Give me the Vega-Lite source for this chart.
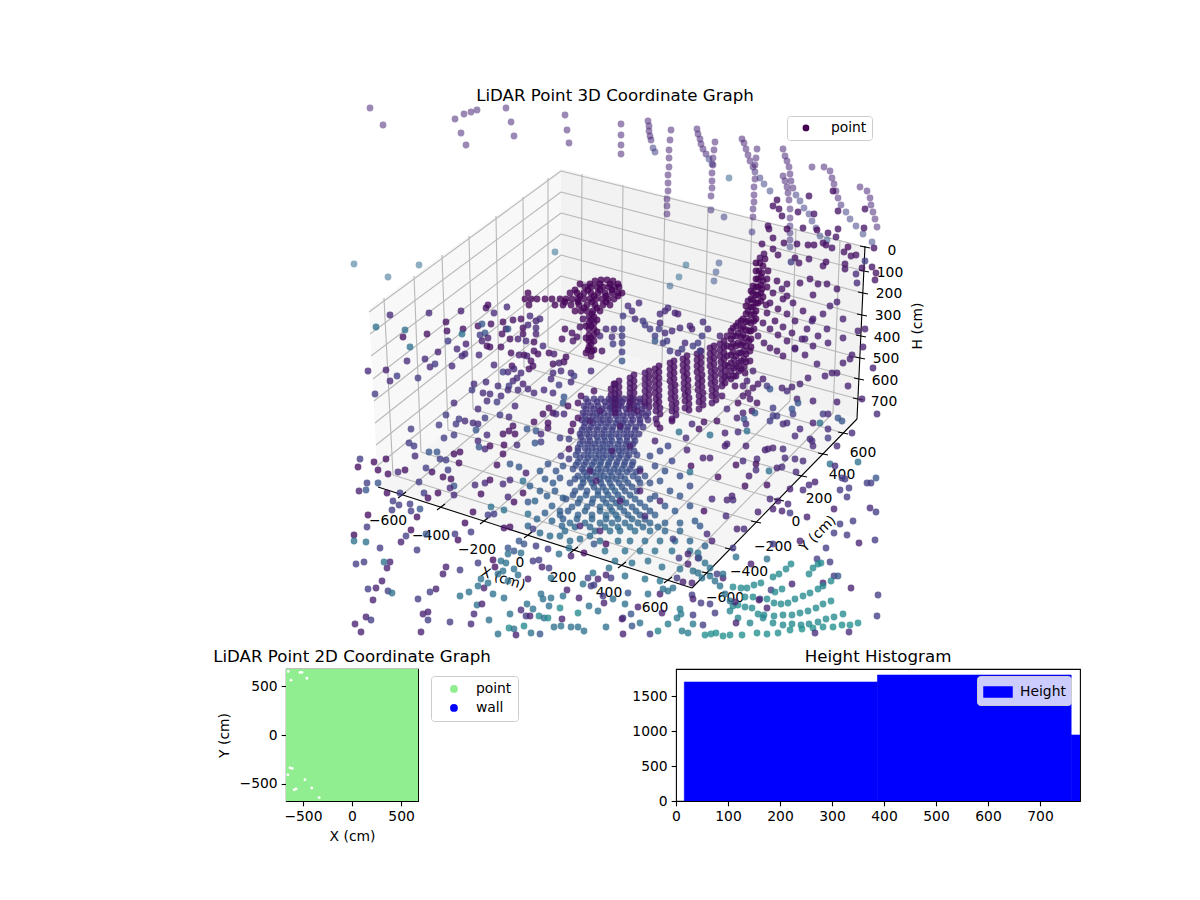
{"$schema":"https://vega.github.io/schema/vega-lite/v6.json","background":"white","padding":{"left":212,"top":87,"right":10,"bottom":50},"config":{"font":"DejaVu Sans","view":{"stroke":null},"title":{"fontSize":16.67,"fontWeight":"normal","color":"black","offset":3},"axis":{"grid":false,"domain":false,"labelFontSize":13.89,"titleFontSize":13.89,"titleFontWeight":"normal","labelColor":"black","titleColor":"black","tickColor":"black","tickSize":4.86,"tickWidth":1.1,"labelPadding":4,"titlePadding":6,"labelFlush":false,"labelOverlap":false},"legend":{"labelFontSize":13.89,"labelColor":"black","strokeColor":"#cccccc","cornerRadius":3}},
"datasets":{
"panes":[{"p":"left","u":369,"v":308,"w":308},{"p":"left","u":378,"v":301,"w":486},{"p":"left","u":561,"v":168,"w":336},{"p":"right","u":561,"v":168,"w":336},{"p":"right","u":857,"v":243,"w":418},{"p":"right","u":865,"v":245,"w":245},{"p":"floor","u":378,"v":486,"w":486},{"p":"floor","u":561,"v":336,"w":545},{"p":"floor","u":692,"v":372,"w":587},{"p":"floor","u":857,"v":418,"w":418}],
"grid":[{"a":384,"b":297,"c":393,"d":474},{"a":414,"b":275,"c":421,"d":451},{"a":442,"b":254,"c":448,"d":429},{"a":469,"b":235,"c":473,"d":408},{"a":496,"b":215,"c":499,"d":387},{"a":523,"b":196,"c":524,"d":366},{"a":548,"b":177,"c":548,"d":346},{"a":582,"b":173,"c":581,"d":342},{"a":623,"b":184,"c":621,"d":353},{"a":665,"b":194,"c":662,"d":364},{"a":708,"b":205,"c":704,"d":376},{"a":752,"b":216,"c":747,"d":388},{"a":796,"b":227,"c":790,"d":400},{"a":840,"b":239,"c":833,"d":412},{"a":369,"b":311,"c":561,"d":170},{"a":370,"b":333,"c":561,"d":191},{"a":371,"b":355,"c":561,"d":212},{"a":373,"b":378,"c":561,"d":233},{"a":374,"b":400,"c":561,"d":254},{"a":375,"b":422,"c":561,"d":275},{"a":376,"b":444,"c":561,"d":297},{"a":377,"b":465,"c":561,"d":318},{"a":561,"b":170,"c":865,"d":246},{"a":561,"b":191,"c":864,"d":270},{"a":561,"b":212,"c":863,"d":292},{"a":561,"b":233,"c":862,"d":314},{"a":561,"b":254,"c":861,"d":335},{"a":561,"b":275,"c":860,"d":357},{"a":561,"b":297,"c":859,"d":378},{"a":561,"b":318,"c":858,"d":398},{"a":402,"b":494,"c":581,"d":342},{"a":441,"b":506,"c":621,"d":353},{"a":484,"b":520,"c":662,"d":364},{"a":528,"b":534,"c":704,"d":376},{"a":574,"b":549,"c":747,"d":388},{"a":622,"b":564,"c":790,"d":400},{"a":668,"b":579,"c":833,"d":412},{"a":393,"b":474,"c":707,"d":572},{"a":421,"b":451,"c":730,"d":548},{"a":448,"b":429,"c":756,"d":521},{"a":473,"b":408,"c":779,"d":499},{"a":499,"b":387,"c":802,"d":475},{"a":524,"b":366,"c":823,"d":453},{"a":548,"b":346,"c":843,"d":432}],
"axes3d":[{"a":378,"b":486,"c":692,"d":587},{"a":692,"b":587,"c":857,"d":418},{"a":857,"b":418,"c":865,"d":245},{"a":398,"b":497,"c":406,"d":491},{"a":437,"b":509,"c":445,"d":503},{"a":480,"b":523,"c":488,"d":517},{"a":524,"b":537,"c":532,"d":531},{"a":570,"b":552,"c":578,"d":546},{"a":618,"b":567,"c":626,"d":561},{"a":664,"b":582,"c":672,"d":576},{"a":702,"b":571,"c":712,"d":573},{"a":725,"b":547,"c":735,"d":549},{"a":751,"b":520,"c":761,"d":522},{"a":774,"b":498,"c":784,"d":500},{"a":797,"b":474,"c":807,"d":476},{"a":818,"b":452,"c":828,"d":454},{"a":838,"b":431,"c":848,"d":433},{"a":860,"b":245,"c":870,"d":247},{"a":859,"b":269,"c":869,"d":271},{"a":858,"b":291,"c":868,"d":293},{"a":857,"b":313,"c":867,"d":315},{"a":856,"b":334,"c":866,"d":336},{"a":855,"b":356,"c":865,"d":358},{"a":854,"b":377,"c":864,"d":379},{"a":853,"b":397,"c":863,"d":399}],
"ticks3d":[{"u":388,"v":520,"t":"−600"},{"u":431,"v":535,"t":"−400"},{"u":477,"v":549,"t":"−200"},{"u":520,"v":562,"t":"0"},{"u":563,"v":577,"t":"200"},{"u":609,"v":592,"t":"400"},{"u":655,"v":607,"t":"600"},{"u":725,"v":597,"t":"−600"},{"u":749,"v":571,"t":"−400"},{"u":773,"v":546,"t":"−200"},{"u":796,"v":521,"t":"0"},{"u":819,"v":498,"t":"200"},{"u":842,"v":474,"t":"400"},{"u":863,"v":452,"t":"600"},{"u":892,"v":250,"t":"0"},{"u":890,"v":272,"t":"100"},{"u":889,"v":293,"t":"200"},{"u":888,"v":315,"t":"300"},{"u":887,"v":337,"t":"400"},{"u":886,"v":358,"t":"500"},{"u":885,"v":380,"t":"600"},{"u":884,"v":401,"t":"700"}],
"far":[{"u":370,"v":107,"h":14},{"u":383,"v":124,"h":14},{"u":455,"v":118,"h":14},{"u":461,"v":132,"h":14},{"u":466,"v":144,"h":14},{"u":464,"v":113,"h":14},{"u":471,"v":111,"h":14},{"u":477,"v":109,"h":14},{"u":506,"v":107,"h":14},{"u":511,"v":121,"h":14},{"u":514,"v":135,"h":14},{"u":565,"v":114,"h":14},{"u":567,"v":129,"h":14},{"u":569,"v":142,"h":14},{"u":621,"v":123,"h":14},{"u":621,"v":134,"h":14},{"u":621,"v":144,"h":14},{"u":621,"v":153,"h":14},{"u":354,"v":263,"h":40},{"u":419,"v":264,"h":40},{"u":388,"v":276,"h":40},{"u":555,"v":251,"h":40},{"u":648,"v":120,"h":14},{"u":649,"v":125,"h":14},{"u":649,"v":130,"h":14},{"u":650,"v":135,"h":14},{"u":651,"v":139,"h":14},{"u":653,"v":147,"h":24},{"u":655,"v":151,"h":24},{"u":671,"v":129,"h":14},{"u":670,"v":139,"h":14},{"u":669,"v":149,"h":14},{"u":669,"v":157,"h":14},{"u":669,"v":166,"h":14},{"u":668,"v":174,"h":14},{"u":668,"v":182,"h":14},{"u":668,"v":190,"h":14},{"u":667,"v":198,"h":14},{"u":667,"v":205,"h":14},{"u":667,"v":213,"h":14},{"u":697,"v":128,"h":14},{"u":698,"v":133,"h":14},{"u":700,"v":138,"h":14},{"u":701,"v":143,"h":14},{"u":703,"v":148,"h":14},{"u":706,"v":153,"h":14},{"u":709,"v":158,"h":24},{"u":712,"v":163,"h":24},{"u":715,"v":141,"h":14},{"u":714,"v":149,"h":14},{"u":713,"v":157,"h":14},{"u":713,"v":164,"h":14},{"u":712,"v":172,"h":14},{"u":712,"v":180,"h":14},{"u":712,"v":187,"h":14},{"u":711,"v":195,"h":14},{"u":711,"v":209,"h":18},{"u":724,"v":216,"h":24},{"u":729,"v":177,"h":36},{"u":742,"v":138,"h":14},{"u":744,"v":142,"h":14},{"u":746,"v":148,"h":14},{"u":748,"v":154,"h":14},{"u":750,"v":160,"h":14},{"u":753,"v":166,"h":14},{"u":755,"v":171,"h":18},{"u":760,"v":177,"h":24},{"u":764,"v":183,"h":26},{"u":770,"v":190,"h":26},{"u":757,"v":148,"h":14},{"u":756,"v":157,"h":14},{"u":755,"v":164,"h":14},{"u":755,"v":178,"h":14},{"u":754,"v":186,"h":14},{"u":754,"v":194,"h":14},{"u":754,"v":201,"h":14},{"u":753,"v":208,"h":14},{"u":753,"v":216,"h":14},{"u":752,"v":231,"h":18},{"u":783,"v":148,"h":14},{"u":785,"v":155,"h":14},{"u":787,"v":160,"h":14},{"u":789,"v":166,"h":14},{"u":790,"v":173,"h":14},{"u":791,"v":180,"h":14},{"u":793,"v":187,"h":14},{"u":796,"v":194,"h":24},{"u":800,"v":200,"h":24},{"u":804,"v":207,"h":24},{"u":809,"v":213,"h":24},{"u":812,"v":220,"h":24},{"u":816,"v":227,"h":24},{"u":820,"v":235,"h":26},{"u":827,"v":239,"h":36},{"u":783,"v":175,"h":14},{"u":785,"v":180,"h":14},{"u":787,"v":186,"h":14},{"u":788,"v":192,"h":14},{"u":789,"v":199,"h":14},{"u":790,"v":208,"h":14},{"u":790,"v":217,"h":14},{"u":790,"v":225,"h":18},{"u":790,"v":232,"h":18},{"u":790,"v":239,"h":18},{"u":790,"v":246,"h":24},{"u":812,"v":166,"h":14},{"u":824,"v":166,"h":14},{"u":830,"v":170,"h":14},{"u":832,"v":177,"h":14},{"u":834,"v":183,"h":14},{"u":836,"v":190,"h":14},{"u":838,"v":197,"h":14},{"u":841,"v":204,"h":18},{"u":846,"v":211,"h":24},{"u":850,"v":218,"h":24},{"u":856,"v":225,"h":24},{"u":863,"v":233,"h":26},{"u":872,"v":241,"h":26},{"u":860,"v":186,"h":14},{"u":867,"v":190,"h":14},{"u":870,"v":197,"h":14},{"u":871,"v":204,"h":14},{"u":873,"v":211,"h":14},{"u":875,"v":218,"h":14},{"u":877,"v":226,"h":14},{"u":686,"v":264,"h":40},{"u":679,"v":276,"h":40},{"u":670,"v":285,"h":36},{"u":719,"v":262,"h":30},{"u":716,"v":271,"h":30},{"u":714,"v":280,"h":30}],
"dense":[{"u":611,"v":388,"h":7},{"u":611,"v":394,"h":7},{"u":611,"v":400,"h":7},{"u":611,"v":406,"h":7},{"u":619,"v":380,"h":7},{"u":619,"v":386,"h":7},{"u":619,"v":392,"h":7},{"u":619,"v":398,"h":7},{"u":619,"v":404,"h":7},{"u":634,"v":374,"h":6},{"u":634,"v":380,"h":6},{"u":634,"v":386,"h":6},{"u":634,"v":392,"h":6},{"u":634,"v":398,"h":7},{"u":634,"v":404,"h":7},{"u":649,"v":370,"h":6},{"u":649,"v":376,"h":6},{"u":649,"v":382,"h":6},{"u":649,"v":388,"h":6},{"u":649,"v":394,"h":6},{"u":649,"v":400,"h":7},{"u":649,"v":406,"h":7},{"u":659,"v":365,"h":5},{"u":659,"v":371,"h":5},{"u":659,"v":377,"h":5},{"u":659,"v":383,"h":5},{"u":659,"v":389,"h":6},{"u":659,"v":395,"h":6},{"u":659,"v":401,"h":6},{"u":660,"v":407,"h":7},{"u":660,"v":413,"h":7},{"u":674,"v":360,"h":5},{"u":674,"v":366,"h":5},{"u":674,"v":372,"h":5},{"u":674,"v":378,"h":5},{"u":675,"v":384,"h":5},{"u":675,"v":390,"h":6},{"u":675,"v":396,"h":6},{"u":676,"v":402,"h":6},{"u":676,"v":408,"h":6},{"u":676,"v":414,"h":7},{"u":687,"v":355,"h":5},{"u":687,"v":361,"h":5},{"u":687,"v":367,"h":5},{"u":687,"v":373,"h":5},{"u":688,"v":379,"h":5},{"u":688,"v":385,"h":5},{"u":688,"v":391,"h":6},{"u":689,"v":397,"h":6},{"u":689,"v":403,"h":6},{"u":689,"v":409,"h":6},{"u":701,"v":350,"h":5},{"u":701,"v":356,"h":5},{"u":701,"v":362,"h":5},{"u":701,"v":368,"h":5},{"u":702,"v":374,"h":5},{"u":702,"v":380,"h":5},{"u":702,"v":386,"h":6},{"u":703,"v":392,"h":6},{"u":703,"v":398,"h":6},{"u":703,"v":404,"h":6},{"u":714,"v":345,"h":4},{"u":714,"v":351,"h":4},{"u":714,"v":357,"h":4},{"u":714,"v":363,"h":5},{"u":715,"v":369,"h":5},{"u":715,"v":375,"h":5},{"u":715,"v":381,"h":5},{"u":716,"v":387,"h":6},{"u":716,"v":393,"h":6},{"u":716,"v":399,"h":6},{"u":724,"v":340,"h":4},{"u":724,"v":346,"h":4},{"u":724,"v":352,"h":4},{"u":724,"v":358,"h":4},{"u":725,"v":364,"h":4},{"u":725,"v":370,"h":5},{"u":725,"v":376,"h":5},{"u":725,"v":382,"h":5},{"u":731,"v":330,"h":3},{"u":731,"v":338,"h":3},{"u":731,"v":346,"h":3},{"u":731,"v":354,"h":4},{"u":731,"v":362,"h":4},{"u":731,"v":370,"h":4},{"u":731,"v":378,"h":4},{"u":736,"v":325,"h":3},{"u":736,"v":335,"h":3},{"u":736,"v":345,"h":3},{"u":736,"v":355,"h":3},{"u":736,"v":365,"h":4},{"u":736,"v":375,"h":4},{"u":741,"v":320,"h":3},{"u":741,"v":328,"h":3},{"u":741,"v":336,"h":3},{"u":741,"v":344,"h":3},{"u":741,"v":352,"h":3},{"u":741,"v":360,"h":3},{"u":741,"v":368,"h":3},{"u":746,"v":305,"h":2},{"u":746,"v":313,"h":2},{"u":746,"v":321,"h":2},{"u":746,"v":329,"h":2},{"u":746,"v":337,"h":3},{"u":746,"v":345,"h":3},{"u":746,"v":353,"h":3},{"u":746,"v":361,"h":3},{"u":751,"v":290,"h":2},{"u":751,"v":298,"h":2},{"u":751,"v":306,"h":2},{"u":751,"v":314,"h":2},{"u":751,"v":322,"h":2},{"u":751,"v":330,"h":2},{"u":751,"v":338,"h":2},{"u":751,"v":346,"h":2},{"u":756,"v":262,"h":1},{"u":756,"v":270,"h":1},{"u":756,"v":278,"h":1},{"u":756,"v":286,"h":1},{"u":756,"v":294,"h":1},{"u":756,"v":302,"h":1},{"u":756,"v":310,"h":1},{"u":756,"v":318,"h":2},{"u":761,"v":276,"h":1},{"u":761,"v":284,"h":1},{"u":761,"v":292,"h":1},{"u":761,"v":300,"h":1},{"u":580,"v":283,"h":1},{"u":590,"v":283,"h":1},{"u":600,"v":283,"h":1},{"u":610,"v":283,"h":1},{"u":618,"v":283,"h":1},{"u":575,"v":289,"h":1},{"u":588,"v":289,"h":1},{"u":600,"v":289,"h":1},{"u":612,"v":289,"h":1},{"u":580,"v":295,"h":1},{"u":594,"v":295,"h":1},{"u":606,"v":295,"h":1},{"u":618,"v":295,"h":1},{"u":565,"v":301,"h":1},{"u":578,"v":301,"h":1},{"u":592,"v":301,"h":1},{"u":606,"v":301,"h":1},{"u":584,"v":307,"h":1},{"u":597,"v":307,"h":1},{"u":592,"v":313,"h":2},{"u":591,"v":319,"h":2},{"u":597,"v":319,"h":2},{"u":586,"v":325,"h":2},{"u":591,"v":325,"h":2},{"u":597,"v":331,"h":2},{"u":586,"v":337,"h":2},{"u":591,"v":337,"h":2},{"u":591,"v":343,"h":2},{"u":588,"v":349,"h":2},{"u":594,"v":349,"h":2},{"u":588,"v":401,"h":20},{"u":597,"v":401,"h":20},{"u":605,"v":401,"h":20},{"u":613,"v":401,"h":20},{"u":622,"v":401,"h":18},{"u":630,"v":401,"h":18},{"u":640,"v":401,"h":18},{"u":586,"v":408,"h":20},{"u":594,"v":408,"h":20},{"u":602,"v":408,"h":20},{"u":610,"v":408,"h":20},{"u":618,"v":408,"h":20},{"u":626,"v":408,"h":20},{"u":634,"v":408,"h":18},{"u":642,"v":408,"h":18},{"u":585,"v":415,"h":22},{"u":593,"v":415,"h":22},{"u":600,"v":415,"h":22},{"u":608,"v":415,"h":22},{"u":616,"v":415,"h":22},{"u":623,"v":415,"h":20},{"u":631,"v":415,"h":20},{"u":639,"v":415,"h":20},{"u":646,"v":415,"h":20},{"u":585,"v":422,"h":22},{"u":593,"v":422,"h":22},{"u":601,"v":422,"h":22},{"u":608,"v":422,"h":24},{"u":616,"v":422,"h":24},{"u":623,"v":422,"h":22},{"u":631,"v":422,"h":22},{"u":640,"v":422,"h":20},{"u":582,"v":429,"h":24},{"u":589,"v":429,"h":24},{"u":597,"v":429,"h":24},{"u":604,"v":429,"h":24},{"u":612,"v":429,"h":24},{"u":620,"v":429,"h":24},{"u":627,"v":429,"h":24},{"u":635,"v":429,"h":22},{"u":581,"v":436,"h":24},{"u":589,"v":436,"h":24},{"u":597,"v":436,"h":26},{"u":604,"v":436,"h":26},{"u":611,"v":436,"h":26},{"u":619,"v":436,"h":26},{"u":627,"v":436,"h":24},{"u":634,"v":436,"h":24},{"u":580,"v":443,"h":26},{"u":588,"v":443,"h":26},{"u":595,"v":443,"h":26},{"u":603,"v":443,"h":26},{"u":610,"v":443,"h":26},{"u":618,"v":443,"h":26},{"u":626,"v":443,"h":26},{"u":633,"v":443,"h":24},{"u":578,"v":450,"h":26},{"u":588,"v":450,"h":26},{"u":596,"v":450,"h":28},{"u":603,"v":450,"h":28},{"u":611,"v":450,"h":28},{"u":619,"v":450,"h":28},{"u":626,"v":450,"h":26},{"u":634,"v":450,"h":26},{"u":580,"v":457,"h":28},{"u":588,"v":457,"h":28},{"u":596,"v":457,"h":28},{"u":603,"v":457,"h":28},{"u":611,"v":457,"h":28},{"u":619,"v":457,"h":28},{"u":627,"v":457,"h":28},{"u":576,"v":464,"h":28},{"u":584,"v":464,"h":28},{"u":592,"v":464,"h":30},{"u":600,"v":464,"h":30},{"u":608,"v":464,"h":30},{"u":616,"v":464,"h":30},{"u":624,"v":464,"h":30},{"u":632,"v":464,"h":28},{"u":584,"v":471,"h":30},{"u":593,"v":471,"h":30},{"u":601,"v":471,"h":30},{"u":610,"v":471,"h":30},{"u":618,"v":471,"h":30},{"u":627,"v":471,"h":30},{"u":636,"v":471,"h":30},{"u":575,"v":478,"h":30},{"u":583,"v":478,"h":32},{"u":590,"v":478,"h":32},{"u":600,"v":478,"h":32},{"u":608,"v":478,"h":32},{"u":616,"v":478,"h":32},{"u":625,"v":478,"h":32},{"u":638,"v":478,"h":30},{"u":581,"v":486,"h":32},{"u":594,"v":486,"h":32},{"u":603,"v":486,"h":32},{"u":612,"v":486,"h":34},{"u":622,"v":486,"h":32},{"u":632,"v":486,"h":32},{"u":573,"v":494,"h":32},{"u":586,"v":494,"h":34},{"u":598,"v":494,"h":34},{"u":608,"v":494,"h":34},{"u":618,"v":494,"h":34},{"u":630,"v":494,"h":34},{"u":578,"v":502,"h":34},{"u":592,"v":502,"h":34},{"u":606,"v":502,"h":36},{"u":616,"v":502,"h":36},{"u":626,"v":502,"h":36},{"u":640,"v":502,"h":34},{"u":568,"v":510,"h":34},{"u":585,"v":510,"h":36},{"u":600,"v":510,"h":36},{"u":612,"v":510,"h":38},{"u":624,"v":510,"h":36},{"u":636,"v":510,"h":36},{"u":650,"v":510,"h":34},{"u":563,"v":518,"h":36},{"u":577,"v":518,"h":36},{"u":592,"v":518,"h":38},{"u":606,"v":518,"h":38},{"u":618,"v":518,"h":38},{"u":632,"v":518,"h":38},{"u":645,"v":518,"h":36},{"u":575,"v":526,"h":38},{"u":590,"v":526,"h":38},{"u":605,"v":526,"h":40},{"u":618,"v":526,"h":40},{"u":630,"v":526,"h":40},{"u":643,"v":526,"h":38},{"u":658,"v":526,"h":38},{"u":540,"v":470,"h":34},{"u":548,"v":463,"h":32},{"u":556,"v":470,"h":32},{"u":563,"v":465,"h":32},{"u":545,"v":478,"h":34},{"u":553,"v":482,"h":34},{"u":560,"v":477,"h":32},{"u":540,"v":490,"h":36},{"u":547,"v":495,"h":36},{"u":555,"v":490,"h":34},{"u":563,"v":497,"h":34},{"u":552,"v":505,"h":36},{"u":545,"v":512,"h":36},{"u":560,"v":510,"h":36},{"u":535,"v":500,"h":38},{"u":530,"v":485,"h":36},{"u":537,"v":518,"h":38},{"u":552,"v":520,"h":38},{"u":562,"v":525,"h":38},{"u":528,"v":525,"h":38},{"u":540,"v":532,"h":40},{"u":550,"v":535,"h":40},{"u":560,"v":535,"h":40},{"u":570,"v":540,"h":40},{"u":580,"v":538,"h":40},{"u":590,"v":535,"h":40},{"u":565,"v":530,"h":40},{"u":655,"v":465,"h":30},{"u":665,"v":470,"h":30},{"u":672,"v":460,"h":26},{"u":680,"v":475,"h":30},{"u":660,"v":480,"h":32},{"u":670,"v":490,"h":32},{"u":680,"v":495,"h":32},{"u":690,"v":485,"h":28},{"u":655,"v":495,"h":32},{"u":665,"v":505,"h":34},{"u":675,"v":510,"h":34},{"u":690,"v":505,"h":32},{"u":695,"v":520,"h":34},{"u":680,"v":522,"h":36},{"u":700,"v":525,"h":34},{"u":705,"v":545,"h":38},{"u":690,"v":540,"h":38},{"u":650,"v":455,"h":28},{"u":660,"v":450,"h":26},{"u":668,"v":445,"h":26}],
"pts":[{"u":586,"v":398,"h":20},{"u":594,"v":398,"h":20},{"u":601,"v":398,"h":20},{"u":609,"v":398,"h":18},{"u":616,"v":398,"h":18},{"u":624,"v":398,"h":18},{"u":632,"v":398,"h":16},{"u":640,"v":398,"h":16},{"u":584,"v":405,"h":20},{"u":591,"v":405,"h":20},{"u":598,"v":405,"h":20},{"u":606,"v":405,"h":20},{"u":613,"v":405,"h":20},{"u":621,"v":405,"h":18},{"u":629,"v":405,"h":18},{"u":637,"v":405,"h":18},{"u":645,"v":405,"h":16},{"u":583,"v":412,"h":20},{"u":590,"v":412,"h":20},{"u":597,"v":412,"h":22},{"u":604,"v":412,"h":22},{"u":612,"v":412,"h":22},{"u":619,"v":412,"h":20},{"u":627,"v":412,"h":20},{"u":634,"v":412,"h":20},{"u":642,"v":412,"h":18},{"u":648,"v":412,"h":18},{"u":582,"v":419,"h":20},{"u":588,"v":419,"h":22},{"u":596,"v":419,"h":22},{"u":603,"v":419,"h":22},{"u":610,"v":419,"h":22},{"u":618,"v":419,"h":22},{"u":625,"v":419,"h":22},{"u":633,"v":419,"h":20},{"u":640,"v":419,"h":20},{"u":648,"v":419,"h":18},{"u":584,"v":426,"h":22},{"u":591,"v":426,"h":22},{"u":598,"v":426,"h":24},{"u":606,"v":426,"h":24},{"u":613,"v":426,"h":24},{"u":621,"v":426,"h":24},{"u":628,"v":426,"h":22},{"u":636,"v":426,"h":22},{"u":643,"v":426,"h":20},{"u":580,"v":433,"h":22},{"u":587,"v":433,"h":24},{"u":594,"v":433,"h":24},{"u":602,"v":433,"h":24},{"u":609,"v":433,"h":26},{"u":616,"v":433,"h":24},{"u":624,"v":433,"h":24},{"u":631,"v":433,"h":22},{"u":639,"v":433,"h":22},{"u":583,"v":440,"h":24},{"u":590,"v":440,"h":24},{"u":598,"v":440,"h":26},{"u":605,"v":440,"h":26},{"u":612,"v":440,"h":26},{"u":620,"v":440,"h":26},{"u":627,"v":440,"h":24},{"u":635,"v":440,"h":24},{"u":578,"v":447,"h":24},{"u":585,"v":447,"h":26},{"u":592,"v":447,"h":26},{"u":600,"v":447,"h":26},{"u":607,"v":447,"h":28},{"u":615,"v":447,"h":28},{"u":622,"v":447,"h":26},{"u":630,"v":447,"h":26},{"u":576,"v":454,"h":26},{"u":584,"v":454,"h":26},{"u":591,"v":454,"h":28},{"u":599,"v":454,"h":28},{"u":606,"v":454,"h":28},{"u":613,"v":454,"h":28},{"u":621,"v":454,"h":28},{"u":629,"v":454,"h":26},{"u":637,"v":454,"h":26},{"u":578,"v":461,"h":28},{"u":586,"v":461,"h":28},{"u":594,"v":461,"h":28},{"u":601,"v":461,"h":30},{"u":609,"v":461,"h":30},{"u":617,"v":461,"h":28},{"u":625,"v":461,"h":28},{"u":633,"v":461,"h":28},{"u":573,"v":468,"h":28},{"u":582,"v":468,"h":28},{"u":590,"v":468,"h":30},{"u":598,"v":468,"h":30},{"u":606,"v":468,"h":30},{"u":614,"v":468,"h":30},{"u":622,"v":468,"h":30},{"u":630,"v":468,"h":28},{"u":640,"v":468,"h":28},{"u":578,"v":475,"h":30},{"u":587,"v":475,"h":30},{"u":596,"v":475,"h":30},{"u":604,"v":475,"h":32},{"u":612,"v":475,"h":32},{"u":621,"v":475,"h":30},{"u":633,"v":475,"h":30},{"u":645,"v":475,"h":30},{"u":570,"v":482,"h":30},{"u":583,"v":482,"h":32},{"u":592,"v":482,"h":32},{"u":601,"v":482,"h":32},{"u":610,"v":482,"h":32},{"u":619,"v":482,"h":32},{"u":628,"v":482,"h":32},{"u":640,"v":482,"h":30},{"u":650,"v":482,"h":30},{"u":575,"v":490,"h":32},{"u":587,"v":490,"h":32},{"u":598,"v":490,"h":34},{"u":606,"v":490,"h":34},{"u":615,"v":490,"h":34},{"u":625,"v":490,"h":32},{"u":637,"v":490,"h":32},{"u":566,"v":498,"h":32},{"u":580,"v":498,"h":34},{"u":593,"v":498,"h":34},{"u":603,"v":498,"h":34},{"u":612,"v":498,"h":34},{"u":622,"v":498,"h":34},{"u":635,"v":498,"h":34},{"u":650,"v":498,"h":32},{"u":572,"v":506,"h":34},{"u":587,"v":506,"h":36},{"u":600,"v":506,"h":36},{"u":610,"v":506,"h":36},{"u":620,"v":506,"h":36},{"u":632,"v":506,"h":34},{"u":645,"v":506,"h":34},{"u":560,"v":514,"h":34},{"u":578,"v":514,"h":36},{"u":592,"v":514,"h":36},{"u":606,"v":514,"h":38},{"u":616,"v":514,"h":38},{"u":628,"v":514,"h":36},{"u":640,"v":514,"h":36},{"u":655,"v":514,"h":36},{"u":570,"v":522,"h":38},{"u":585,"v":522,"h":38},{"u":600,"v":522,"h":38},{"u":612,"v":522,"h":38},{"u":625,"v":522,"h":38},{"u":638,"v":522,"h":38},{"u":650,"v":522,"h":38},{"u":665,"v":522,"h":36},{"u":595,"v":530,"h":40},{"u":610,"v":530,"h":40},{"u":620,"v":530,"h":40},{"u":635,"v":530,"h":40},{"u":650,"v":530,"h":40},{"u":665,"v":530,"h":38},{"u":680,"v":530,"h":38},{"u":600,"v":540,"h":40},{"u":618,"v":540,"h":40},{"u":630,"v":540,"h":40},{"u":645,"v":540,"h":40},{"u":660,"v":540,"h":40},{"u":675,"v":540,"h":40},{"u":605,"v":550,"h":42},{"u":625,"v":550,"h":42},{"u":640,"v":550,"h":42},{"u":655,"v":550,"h":42},{"u":672,"v":550,"h":42},{"u":690,"v":550,"h":42},{"u":615,"v":560,"h":42},{"u":632,"v":562,"h":42},{"u":648,"v":560,"h":42},{"u":662,"v":566,"h":42},{"u":680,"v":568,"h":42},{"u":625,"v":575,"h":42},{"u":645,"v":578,"h":44},{"u":660,"v":580,"h":44},{"u":600,"v":410,"h":12},{"u":590,"v":420,"h":12},{"u":620,"v":425,"h":10},{"u":637,"v":410,"h":10},{"u":655,"v":440,"h":12},{"u":640,"v":470,"h":12},{"u":612,"v":450,"h":12},{"u":590,"v":470,"h":12},{"u":640,"v":490,"h":12},{"u":620,"v":500,"h":12},{"u":660,"v":500,"h":12},{"u":645,"v":515,"h":16},{"u":600,"v":530,"h":12},{"u":580,"v":525,"h":12},{"u":596,"v":480,"h":12},{"u":630,"v":445,"h":12},{"u":615,"v":383,"h":7},{"u":615,"v":388,"h":7},{"u":615,"v":393,"h":7},{"u":615,"v":398,"h":7},{"u":615,"v":403,"h":8},{"u":615,"v":408,"h":8},{"u":615,"v":412,"h":8},{"u":630,"v":377,"h":7},{"u":630,"v":382,"h":7},{"u":630,"v":387,"h":7},{"u":630,"v":392,"h":7},{"u":630,"v":397,"h":7},{"u":630,"v":402,"h":8},{"u":630,"v":408,"h":8},{"u":645,"v":372,"h":7},{"u":645,"v":378,"h":7},{"u":645,"v":384,"h":7},{"u":645,"v":390,"h":7},{"u":645,"v":396,"h":7},{"u":645,"v":402,"h":8},{"u":655,"v":368,"h":5},{"u":655,"v":374,"h":5},{"u":655,"v":380,"h":5},{"u":655,"v":386,"h":6},{"u":655,"v":392,"h":6},{"u":656,"v":398,"h":6},{"u":656,"v":404,"h":6},{"u":656,"v":410,"h":7},{"u":656,"v":418,"h":7},{"u":670,"v":362,"h":5},{"u":670,"v":368,"h":5},{"u":670,"v":374,"h":5},{"u":670,"v":380,"h":5},{"u":671,"v":386,"h":6},{"u":671,"v":392,"h":6},{"u":671,"v":398,"h":6},{"u":672,"v":404,"h":6},{"u":672,"v":410,"h":7},{"u":672,"v":418,"h":7},{"u":683,"v":358,"h":5},{"u":683,"v":364,"h":5},{"u":683,"v":370,"h":5},{"u":684,"v":376,"h":5},{"u":684,"v":382,"h":6},{"u":684,"v":388,"h":6},{"u":685,"v":394,"h":6},{"u":685,"v":400,"h":6},{"u":685,"v":407,"h":7},{"u":697,"v":353,"h":5},{"u":697,"v":359,"h":5},{"u":697,"v":365,"h":5},{"u":697,"v":371,"h":5},{"u":698,"v":377,"h":5},{"u":698,"v":383,"h":6},{"u":698,"v":389,"h":6},{"u":699,"v":395,"h":6},{"u":699,"v":401,"h":6},{"u":699,"v":408,"h":7},{"u":710,"v":347,"h":5},{"u":710,"v":353,"h":5},{"u":710,"v":359,"h":5},{"u":710,"v":365,"h":5},{"u":711,"v":371,"h":5},{"u":711,"v":377,"h":6},{"u":711,"v":383,"h":6},{"u":712,"v":389,"h":6},{"u":712,"v":395,"h":6},{"u":712,"v":402,"h":7},{"u":720,"v":343,"h":5},{"u":720,"v":349,"h":5},{"u":720,"v":355,"h":5},{"u":721,"v":361,"h":5},{"u":721,"v":367,"h":5},{"u":721,"v":373,"h":6},{"u":722,"v":379,"h":6},{"u":722,"v":385,"h":6},{"u":722,"v":395,"h":7},{"u":727,"v":335,"h":4},{"u":727,"v":345,"h":4},{"u":727,"v":355,"h":5},{"u":728,"v":365,"h":5},{"u":728,"v":375,"h":6},{"u":733,"v":327,"h":4},{"u":733,"v":335,"h":4},{"u":733,"v":343,"h":4},{"u":733,"v":351,"h":4},{"u":734,"v":359,"h":5},{"u":734,"v":367,"h":5},{"u":734,"v":375,"h":6},{"u":735,"v":385,"h":6},{"u":738,"v":322,"h":4},{"u":738,"v":332,"h":4},{"u":738,"v":342,"h":4},{"u":739,"v":352,"h":5},{"u":739,"v":362,"h":5},{"u":739,"v":370,"h":5},{"u":743,"v":318,"h":3},{"u":743,"v":326,"h":3},{"u":743,"v":334,"h":3},{"u":743,"v":342,"h":3},{"u":744,"v":350,"h":4},{"u":744,"v":358,"h":4},{"u":744,"v":366,"h":4},{"u":745,"v":372,"h":4},{"u":748,"v":300,"h":3},{"u":748,"v":310,"h":3},{"u":748,"v":320,"h":3},{"u":749,"v":330,"h":3},{"u":749,"v":340,"h":3},{"u":750,"v":350,"h":4},{"u":750,"v":360,"h":4},{"u":753,"v":285,"h":2},{"u":753,"v":292,"h":2},{"u":753,"v":299,"h":2},{"u":753,"v":306,"h":2},{"u":754,"v":313,"h":2},{"u":754,"v":320,"h":2},{"u":754,"v":328,"h":3},{"u":760,"v":262,"h":2},{"u":759,"v":270,"h":2},{"u":758,"v":278,"h":2},{"u":758,"v":286,"h":2},{"u":758,"v":294,"h":2},{"u":758,"v":302,"h":2},{"u":765,"v":258,"h":2},{"u":763,"v":265,"h":2},{"u":762,"v":272,"h":2},{"u":763,"v":280,"h":2},{"u":762,"v":288,"h":2},{"u":763,"v":296,"h":2},{"u":768,"v":270,"h":2},{"u":767,"v":278,"h":2},{"u":767,"v":286,"h":2},{"u":766,"v":304,"h":3},{"u":595,"v":280,"h":1},{"u":601,"v":279,"h":1},{"u":607,"v":279,"h":1},{"u":613,"v":280,"h":1},{"u":585,"v":286,"h":1},{"u":591,"v":286,"h":1},{"u":597,"v":286,"h":1},{"u":603,"v":286,"h":1},{"u":609,"v":286,"h":1},{"u":615,"v":286,"h":1},{"u":619,"v":286,"h":1},{"u":570,"v":292,"h":1},{"u":577,"v":292,"h":1},{"u":584,"v":292,"h":1},{"u":591,"v":292,"h":1},{"u":598,"v":292,"h":1},{"u":605,"v":292,"h":1},{"u":612,"v":292,"h":1},{"u":618,"v":292,"h":1},{"u":622,"v":292,"h":1},{"u":525,"v":298,"h":1},{"u":531,"v":298,"h":1},{"u":537,"v":298,"h":1},{"u":545,"v":298,"h":1},{"u":552,"v":298,"h":1},{"u":560,"v":298,"h":1},{"u":566,"v":298,"h":1},{"u":572,"v":298,"h":1},{"u":578,"v":298,"h":1},{"u":584,"v":298,"h":1},{"u":590,"v":298,"h":1},{"u":596,"v":298,"h":1},{"u":602,"v":298,"h":1},{"u":608,"v":298,"h":1},{"u":614,"v":298,"h":1},{"u":528,"v":292,"h":1},{"u":529,"v":304,"h":2},{"u":555,"v":304,"h":2},{"u":563,"v":304,"h":2},{"u":571,"v":304,"h":2},{"u":579,"v":304,"h":2},{"u":587,"v":304,"h":2},{"u":595,"v":304,"h":2},{"u":603,"v":304,"h":2},{"u":610,"v":304,"h":2},{"u":575,"v":310,"h":2},{"u":581,"v":310,"h":2},{"u":587,"v":310,"h":2},{"u":593,"v":310,"h":2},{"u":600,"v":310,"h":2},{"u":589,"v":316,"h":3},{"u":594,"v":316,"h":3},{"u":589,"v":322,"h":3},{"u":594,"v":322,"h":3},{"u":589,"v":328,"h":3},{"u":594,"v":328,"h":3},{"u":589,"v":334,"h":3},{"u":594,"v":334,"h":3},{"u":589,"v":340,"h":3},{"u":594,"v":340,"h":3},{"u":589,"v":346,"h":3},{"u":592,"v":350,"h":3},{"u":586,"v":352,"h":3},{"u":591,"v":355,"h":3},{"u":583,"v":318,"h":5},{"u":580,"v":326,"h":6},{"u":572,"v":332,"h":6},{"u":565,"v":328,"h":6},{"u":577,"v":336,"h":6},{"u":562,"v":338,"h":6},{"u":573,"v":340,"h":8},{"u":600,"v":335,"h":14},{"u":606,"v":328,"h":16},{"u":612,"v":336,"h":18},{"u":602,"v":350,"h":6},{"u":390,"v":314,"h":16},{"u":429,"v":312,"h":16},{"u":461,"v":310,"h":12},{"u":376,"v":326,"h":42},{"u":405,"v":329,"h":42},{"u":403,"v":336,"h":6},{"u":427,"v":333,"h":6},{"u":446,"v":321,"h":6},{"u":447,"v":330,"h":6},{"u":463,"v":328,"h":6},{"u":478,"v":325,"h":6},{"u":462,"v":333,"h":42},{"u":448,"v":340,"h":22},{"u":410,"v":346,"h":42},{"u":407,"v":360,"h":16},{"u":425,"v":358,"h":16},{"u":438,"v":351,"h":12},{"u":457,"v":348,"h":16},{"u":466,"v":343,"h":12},{"u":465,"v":353,"h":16},{"u":462,"v":355,"h":16},{"u":430,"v":366,"h":16},{"u":435,"v":363,"h":22},{"u":452,"v":365,"h":16},{"u":479,"v":354,"h":16},{"u":368,"v":370,"h":16},{"u":386,"v":369,"h":12},{"u":397,"v":375,"h":22},{"u":390,"v":380,"h":16},{"u":418,"v":377,"h":22},{"u":375,"v":393,"h":22},{"u":474,"v":383,"h":16},{"u":472,"v":389,"h":22},{"u":486,"v":381,"h":16},{"u":498,"v":385,"h":16},{"u":454,"v":402,"h":16},{"u":483,"v":392,"h":16},{"u":490,"v":393,"h":16},{"u":487,"v":400,"h":16},{"u":501,"v":395,"h":16},{"u":497,"v":401,"h":22},{"u":478,"v":408,"h":16},{"u":515,"v":405,"h":16},{"u":446,"v":414,"h":22},{"u":439,"v":424,"h":22},{"u":411,"v":428,"h":22},{"u":456,"v":423,"h":22},{"u":459,"v":418,"h":22},{"u":465,"v":420,"h":16},{"u":473,"v":422,"h":16},{"u":478,"v":423,"h":16},{"u":485,"v":417,"h":22},{"u":500,"v":414,"h":22},{"u":509,"v":416,"h":16},{"u":476,"v":429,"h":32},{"u":454,"v":434,"h":22},{"u":487,"v":434,"h":16},{"u":503,"v":433,"h":6},{"u":515,"v":433,"h":6},{"u":509,"v":430,"h":6},{"u":513,"v":425,"h":6},{"u":527,"v":428,"h":32},{"u":536,"v":430,"h":32},{"u":409,"v":442,"h":22},{"u":414,"v":445,"h":22},{"u":444,"v":437,"h":22},{"u":429,"v":451,"h":32},{"u":437,"v":451,"h":32},{"u":478,"v":440,"h":16},{"u":479,"v":446,"h":32},{"u":485,"v":448,"h":16},{"u":490,"v":445,"h":6},{"u":504,"v":444,"h":6},{"u":517,"v":444,"h":16},{"u":535,"v":442,"h":32},{"u":541,"v":433,"h":16},{"u":541,"v":441,"h":22},{"u":460,"v":451,"h":6},{"u":454,"v":453,"h":6},{"u":415,"v":455,"h":16},{"u":440,"v":458,"h":22},{"u":446,"v":459,"h":22},{"u":360,"v":458,"h":22},{"u":374,"v":461,"h":6},{"u":386,"v":458,"h":6},{"u":503,"v":453,"h":6},{"u":510,"v":463,"h":32},{"u":486,"v":307,"h":6},{"u":488,"v":304,"h":6},{"u":494,"v":312,"h":16},{"u":507,"v":306,"h":16},{"u":482,"v":323,"h":32},{"u":485,"v":332,"h":32},{"u":480,"v":334,"h":22},{"u":482,"v":340,"h":12},{"u":488,"v":337,"h":12},{"u":487,"v":345,"h":6},{"u":490,"v":346,"h":6},{"u":501,"v":346,"h":6},{"u":491,"v":323,"h":6},{"u":503,"v":321,"h":6},{"u":506,"v":328,"h":6},{"u":502,"v":333,"h":6},{"u":508,"v":328,"h":32},{"u":510,"v":338,"h":6},{"u":518,"v":338,"h":12},{"u":526,"v":340,"h":16},{"u":513,"v":319,"h":6},{"u":521,"v":318,"h":6},{"u":523,"v":327,"h":6},{"u":523,"v":333,"h":6},{"u":530,"v":315,"h":16},{"u":536,"v":320,"h":12},{"u":528,"v":324,"h":16},{"u":536,"v":327,"h":16},{"u":540,"v":318,"h":16},{"u":536,"v":333,"h":12},{"u":534,"v":341,"h":6},{"u":543,"v":345,"h":16},{"u":534,"v":350,"h":6},{"u":511,"v":352,"h":6},{"u":524,"v":354,"h":6},{"u":527,"v":355,"h":12},{"u":519,"v":354,"h":12},{"u":538,"v":353,"h":6},{"u":549,"v":352,"h":6},{"u":554,"v":353,"h":12},{"u":566,"v":356,"h":6},{"u":494,"v":364,"h":16},{"u":503,"v":371,"h":22},{"u":508,"v":371,"h":16},{"u":512,"v":365,"h":6},{"u":514,"v":368,"h":16},{"u":521,"v":372,"h":16},{"u":529,"v":368,"h":6},{"u":533,"v":365,"h":6},{"u":531,"v":360,"h":6},{"u":553,"v":363,"h":6},{"u":559,"v":362,"h":12},{"u":564,"v":361,"h":6},{"u":571,"v":372,"h":16},{"u":561,"v":370,"h":16},{"u":553,"v":372,"h":16},{"u":551,"v":378,"h":16},{"u":574,"v":375,"h":22},{"u":559,"v":384,"h":22},{"u":571,"v":381,"h":16},{"u":513,"v":380,"h":16},{"u":517,"v":377,"h":16},{"u":509,"v":385,"h":22},{"u":508,"v":389,"h":16},{"u":518,"v":389,"h":16},{"u":523,"v":383,"h":12},{"u":528,"v":388,"h":16},{"u":534,"v":392,"h":16},{"u":544,"v":389,"h":16},{"u":553,"v":392,"h":16},{"u":564,"v":396,"h":32},{"u":563,"v":402,"h":32},{"u":591,"v":370,"h":16},{"u":578,"v":402,"h":6},{"u":568,"v":405,"h":6},{"u":581,"v":395,"h":6},{"u":594,"v":390,"h":6},{"u":614,"v":383,"h":6},{"u":549,"v":407,"h":6},{"u":553,"v":412,"h":6},{"u":543,"v":413,"h":6},{"u":556,"v":413,"h":16},{"u":564,"v":413,"h":16},{"u":534,"v":421,"h":6},{"u":548,"v":422,"h":6},{"u":548,"v":427,"h":6},{"u":560,"v":437,"h":22},{"u":571,"v":430,"h":6},{"u":578,"v":417,"h":6},{"u":573,"v":423,"h":6},{"u":569,"v":438,"h":22},{"u":569,"v":448,"h":6},{"u":561,"v":455,"h":22},{"u":569,"v":458,"h":22},{"u":639,"v":302,"h":16},{"u":628,"v":305,"h":16},{"u":632,"v":310,"h":16},{"u":623,"v":315,"h":22},{"u":622,"v":328,"h":22},{"u":622,"v":335,"h":22},{"u":622,"v":342,"h":22},{"u":622,"v":351,"h":22},{"u":622,"v":360,"h":32},{"u":613,"v":343,"h":22},{"u":614,"v":328,"h":16},{"u":635,"v":318,"h":16},{"u":643,"v":320,"h":22},{"u":645,"v":324,"h":22},{"u":650,"v":328,"h":22},{"u":655,"v":335,"h":22},{"u":660,"v":313,"h":16},{"u":665,"v":310,"h":16},{"u":668,"v":307,"h":16},{"u":675,"v":312,"h":12},{"u":678,"v":313,"h":12},{"u":660,"v":322,"h":16},{"u":659,"v":328,"h":22},{"u":672,"v":330,"h":16},{"u":665,"v":332,"h":16},{"u":667,"v":340,"h":22},{"u":663,"v":342,"h":22},{"u":655,"v":340,"h":32},{"u":670,"v":350,"h":22},{"u":678,"v":352,"h":16},{"u":682,"v":348,"h":22},{"u":680,"v":327,"h":16},{"u":690,"v":325,"h":12},{"u":692,"v":328,"h":12},{"u":703,"v":321,"h":16},{"u":708,"v":328,"h":16},{"u":702,"v":335,"h":22},{"u":698,"v":342,"h":22},{"u":685,"v":342,"h":16},{"u":720,"v":335,"h":12},{"u":700,"v":350,"h":22},{"u":693,"v":345,"h":22},{"u":758,"v":335,"h":8},{"u":764,"v":342,"h":8},{"u":770,"v":347,"h":8},{"u":777,"v":350,"h":8},{"u":783,"v":355,"h":8},{"u":763,"v":322,"h":6},{"u":770,"v":328,"h":8},{"u":778,"v":334,"h":8},{"u":787,"v":340,"h":8},{"u":795,"v":347,"h":10},{"u":805,"v":354,"h":10},{"u":817,"v":363,"h":12},{"u":767,"v":312,"h":6},{"u":775,"v":320,"h":6},{"u":783,"v":326,"h":8},{"u":792,"v":332,"h":8},{"u":802,"v":338,"h":10},{"u":813,"v":345,"h":10},{"u":770,"v":302,"h":6},{"u":778,"v":308,"h":6},{"u":787,"v":313,"h":8},{"u":795,"v":320,"h":8},{"u":807,"v":328,"h":10},{"u":818,"v":335,"h":10},{"u":828,"v":342,"h":12},{"u":773,"v":292,"h":6},{"u":783,"v":298,"h":6},{"u":793,"v":302,"h":8},{"u":803,"v":310,"h":8},{"u":813,"v":318,"h":10},{"u":827,"v":328,"h":12},{"u":843,"v":337,"h":12},{"u":777,"v":199,"h":6},{"u":773,"v":205,"h":6},{"u":779,"v":208,"h":6},{"u":782,"v":215,"h":6},{"u":809,"v":195,"h":8},{"u":798,"v":211,"h":8},{"u":814,"v":213,"h":8},{"u":838,"v":210,"h":8},{"u":833,"v":190,"h":6},{"u":865,"v":208,"h":8},{"u":768,"v":225,"h":6},{"u":769,"v":228,"h":6},{"u":787,"v":228,"h":4},{"u":803,"v":227,"h":8},{"u":817,"v":229,"h":4},{"u":838,"v":228,"h":8},{"u":864,"v":227,"h":8},{"u":828,"v":232,"h":8},{"u":836,"v":236,"h":8},{"u":773,"v":237,"h":6},{"u":762,"v":243,"h":6},{"u":784,"v":242,"h":6},{"u":797,"v":243,"h":6},{"u":808,"v":244,"h":6},{"u":814,"v":244,"h":6},{"u":823,"v":242,"h":8},{"u":826,"v":244,"h":6},{"u":832,"v":247,"h":8},{"u":848,"v":246,"h":4},{"u":874,"v":247,"h":8},{"u":773,"v":248,"h":6},{"u":778,"v":254,"h":6},{"u":764,"v":253,"h":6},{"u":760,"v":257,"h":6},{"u":809,"v":258,"h":8},{"u":795,"v":257,"h":6},{"u":799,"v":262,"h":8},{"u":791,"v":261,"h":22},{"u":823,"v":265,"h":8},{"u":826,"v":261,"h":6},{"u":845,"v":263,"h":8},{"u":856,"v":254,"h":8},{"u":851,"v":255,"h":8},{"u":844,"v":251,"h":8},{"u":865,"v":260,"h":22},{"u":872,"v":266,"h":8},{"u":845,"v":268,"h":8},{"u":856,"v":273,"h":16},{"u":876,"v":272,"h":8},{"u":875,"v":279,"h":8},{"u":862,"v":267,"h":8},{"u":857,"v":282,"h":16},{"u":777,"v":280,"h":6},{"u":787,"v":283,"h":8},{"u":800,"v":282,"h":8},{"u":810,"v":278,"h":8},{"u":818,"v":283,"h":8},{"u":827,"v":283,"h":8},{"u":837,"v":288,"h":8},{"u":782,"v":288,"h":8},{"u":787,"v":295,"h":8},{"u":813,"v":294,"h":8},{"u":830,"v":305,"h":12},{"u":837,"v":301,"h":12},{"u":823,"v":313,"h":12},{"u":812,"v":320,"h":12},{"u":865,"v":328,"h":12},{"u":858,"v":330,"h":12},{"u":863,"v":346,"h":12},{"u":852,"v":354,"h":12},{"u":850,"v":358,"h":12},{"u":843,"v":362,"h":12},{"u":873,"v":367,"h":12},{"u":832,"v":372,"h":12},{"u":837,"v":372,"h":12},{"u":825,"v":375,"h":12},{"u":808,"v":377,"h":12},{"u":848,"v":385,"h":12},{"u":837,"v":401,"h":12},{"u":862,"v":398,"h":12},{"u":877,"v":413,"h":16},{"u":813,"v":400,"h":12},{"u":782,"v":387,"h":12},{"u":792,"v":386,"h":12},{"u":800,"v":383,"h":12},{"u":797,"v":398,"h":12},{"u":798,"v":402,"h":32},{"u":787,"v":390,"h":16},{"u":770,"v":388,"h":32},{"u":767,"v":385,"h":22},{"u":793,"v":413,"h":22},{"u":792,"v":408,"h":32},{"u":777,"v":415,"h":22},{"u":773,"v":407,"h":22},{"u":843,"v":318,"h":12},{"u":805,"v":338,"h":12},{"u":795,"v":348,"h":12},{"u":743,"v":395,"h":8},{"u":748,"v":392,"h":8},{"u":753,"v":387,"h":8},{"u":758,"v":383,"h":8},{"u":763,"v":378,"h":10},{"u":747,"v":380,"h":12},{"u":753,"v":370,"h":12},{"u":743,"v":385,"h":10},{"u":750,"v":398,"h":8},{"u":727,"v":408,"h":16},{"u":738,"v":402,"h":6},{"u":717,"v":420,"h":6},{"u":704,"v":421,"h":6},{"u":692,"v":423,"h":16},{"u":699,"v":428,"h":6},{"u":737,"v":417,"h":12},{"u":743,"v":412,"h":12},{"u":752,"v":410,"h":6},{"u":757,"v":402,"h":6},{"u":755,"v":412,"h":32},{"u":744,"v":418,"h":32},{"u":747,"v":430,"h":42},{"u":746,"v":423,"h":16},{"u":738,"v":431,"h":16},{"u":725,"v":432,"h":12},{"u":710,"v":434,"h":42},{"u":679,"v":431,"h":42},{"u":686,"v":437,"h":16},{"u":727,"v":443,"h":12},{"u":725,"v":445,"h":12},{"u":746,"v":445,"h":12},{"u":768,"v":448,"h":12},{"u":773,"v":447,"h":12},{"u":765,"v":449,"h":12},{"u":783,"v":423,"h":16},{"u":770,"v":420,"h":22},{"u":773,"v":415,"h":22},{"u":787,"v":422,"h":16},{"u":795,"v":435,"h":16},{"u":800,"v":428,"h":16},{"u":813,"v":422,"h":12},{"u":820,"v":422,"h":42},{"u":823,"v":413,"h":22},{"u":828,"v":413,"h":16},{"u":838,"v":417,"h":32},{"u":842,"v":420,"h":32},{"u":828,"v":428,"h":16},{"u":828,"v":437,"h":22},{"u":837,"v":445,"h":16},{"u":812,"v":440,"h":16},{"u":813,"v":445,"h":16},{"u":783,"v":448,"h":16},{"u":795,"v":458,"h":16},{"u":803,"v":460,"h":16},{"u":785,"v":457,"h":16},{"u":757,"v":458,"h":16},{"u":743,"v":460,"h":16},{"u":710,"v":457,"h":12},{"u":703,"v":457,"h":12},{"u":687,"v":449,"h":12},{"u":810,"v":438,"h":16},{"u":852,"v":432,"h":16},{"u":660,"v":427,"h":6},{"u":672,"v":420,"h":6},{"u":657,"v":423,"h":6},{"u":358,"v":466,"h":6},{"u":378,"v":469,"h":6},{"u":388,"v":473,"h":6},{"u":398,"v":471,"h":16},{"u":405,"v":469,"h":6},{"u":426,"v":467,"h":22},{"u":432,"v":471,"h":6},{"u":443,"v":476,"h":6},{"u":448,"v":469,"h":22},{"u":459,"v":462,"h":6},{"u":451,"v":478,"h":6},{"u":454,"v":485,"h":32},{"u":450,"v":487,"h":16},{"u":419,"v":481,"h":22},{"u":367,"v":482,"h":22},{"u":378,"v":482,"h":32},{"u":359,"v":490,"h":12},{"u":366,"v":489,"h":32},{"u":387,"v":492,"h":6},{"u":400,"v":492,"h":22},{"u":424,"v":492,"h":22},{"u":428,"v":497,"h":6},{"u":438,"v":492,"h":6},{"u":454,"v":494,"h":16},{"u":393,"v":500,"h":22},{"u":399,"v":504,"h":22},{"u":410,"v":503,"h":22},{"u":411,"v":510,"h":22},{"u":420,"v":508,"h":32},{"u":392,"v":509,"h":22},{"u":417,"v":516,"h":6},{"u":368,"v":514,"h":6},{"u":367,"v":526,"h":22},{"u":411,"v":529,"h":6},{"u":406,"v":535,"h":22},{"u":426,"v":533,"h":32},{"u":401,"v":541,"h":12},{"u":354,"v":534,"h":6},{"u":354,"v":540,"h":42},{"u":366,"v":541,"h":42},{"u":380,"v":547,"h":22},{"u":417,"v":549,"h":22},{"u":455,"v":533,"h":22},{"u":458,"v":539,"h":6},{"u":471,"v":531,"h":22},{"u":465,"v":522,"h":6},{"u":473,"v":511,"h":6},{"u":488,"v":514,"h":22},{"u":494,"v":513,"h":22},{"u":475,"v":484,"h":16},{"u":485,"v":482,"h":16},{"u":490,"v":479,"h":6},{"u":481,"v":493,"h":6},{"u":503,"v":483,"h":16},{"u":508,"v":496,"h":16},{"u":514,"v":501,"h":6},{"u":523,"v":492,"h":6},{"u":510,"v":479,"h":16},{"u":497,"v":464,"h":6},{"u":528,"v":501,"h":32},{"u":528,"v":513,"h":42},{"u":504,"v":509,"h":42},{"u":491,"v":506,"h":42},{"u":526,"v":472,"h":12},{"u":519,"v":466,"h":32},{"u":523,"v":480,"h":42},{"u":504,"v":527,"h":6},{"u":510,"v":526,"h":6},{"u":533,"v":528,"h":22},{"u":519,"v":540,"h":32},{"u":508,"v":547,"h":32},{"u":514,"v":550,"h":32},{"u":524,"v":543,"h":32},{"u":536,"v":545,"h":22},{"u":548,"v":548,"h":22},{"u":559,"v":553,"h":42},{"u":571,"v":555,"h":12},{"u":584,"v":552,"h":6},{"u":569,"v":547,"h":42},{"u":594,"v":543,"h":32},{"u":606,"v":543,"h":6},{"u":533,"v":560,"h":22},{"u":493,"v":559,"h":6},{"u":495,"v":566,"h":6},{"u":478,"v":562,"h":22},{"u":484,"v":587,"h":12},{"u":481,"v":578,"h":42},{"u":478,"v":585,"h":42},{"u":488,"v":582,"h":42},{"u":493,"v":593,"h":42},{"u":504,"v":597,"h":42},{"u":469,"v":591,"h":42},{"u":460,"v":595,"h":42},{"u":477,"v":604,"h":42},{"u":482,"v":603,"h":12},{"u":474,"v":613,"h":16},{"u":489,"v":619,"h":42},{"u":450,"v":621,"h":22},{"u":471,"v":623,"h":16},{"u":510,"v":613,"h":42},{"u":521,"v":609,"h":16},{"u":526,"v":615,"h":22},{"u":530,"v":615,"h":12},{"u":527,"v":603,"h":42},{"u":539,"v":615,"h":52},{"u":544,"v":617,"h":42},{"u":548,"v":617,"h":52},{"u":562,"v":618,"h":12},{"u":578,"v":612,"h":52},{"u":589,"v":605,"h":42},{"u":598,"v":610,"h":42},{"u":604,"v":602,"h":12},{"u":603,"v":595,"h":22},{"u":579,"v":597,"h":12},{"u":567,"v":589,"h":12},{"u":563,"v":595,"h":42},{"u":551,"v":597,"h":42},{"u":541,"v":593,"h":42},{"u":549,"v":605,"h":42},{"u":560,"v":607,"h":52},{"u":533,"v":608,"h":42},{"u":543,"v":598,"h":42},{"u":528,"v":578,"h":12},{"u":539,"v":559,"h":22},{"u":542,"v":566,"h":12},{"u":549,"v":567,"h":22},{"u":518,"v":574,"h":42},{"u":508,"v":580,"h":42},{"u":521,"v":552,"h":42},{"u":508,"v":553,"h":42},{"u":501,"v":560,"h":42},{"u":506,"v":562,"h":42},{"u":514,"v":568,"h":42},{"u":503,"v":570,"h":42},{"u":498,"v":573,"h":42},{"u":460,"v":569,"h":22},{"u":443,"v":573,"h":12},{"u":446,"v":566,"h":12},{"u":387,"v":567,"h":12},{"u":390,"v":561,"h":12},{"u":384,"v":561,"h":42},{"u":364,"v":561,"h":22},{"u":356,"v":563,"h":22},{"u":382,"v":580,"h":12},{"u":376,"v":587,"h":12},{"u":368,"v":588,"h":22},{"u":388,"v":590,"h":22},{"u":392,"v":592,"h":42},{"u":373,"v":599,"h":12},{"u":418,"v":598,"h":22},{"u":430,"v":591,"h":22},{"u":436,"v":588,"h":12},{"u":423,"v":613,"h":12},{"u":428,"v":611,"h":12},{"u":428,"v":619,"h":22},{"u":366,"v":616,"h":12},{"u":371,"v":619,"h":22},{"u":355,"v":623,"h":12},{"u":361,"v":631,"h":12},{"u":421,"v":631,"h":12},{"u":509,"v":627,"h":52},{"u":524,"v":625,"h":52},{"u":514,"v":628,"h":42},{"u":531,"v":632,"h":42},{"u":540,"v":633,"h":32},{"u":498,"v":633,"h":42},{"u":516,"v":634,"h":12},{"u":561,"v":625,"h":42},{"u":554,"v":626,"h":42},{"u":571,"v":626,"h":42},{"u":578,"v":626,"h":42},{"u":584,"v":630,"h":42},{"u":606,"v":626,"h":42},{"u":598,"v":578,"h":12},{"u":606,"v":574,"h":12},{"u":611,"v":577,"h":22},{"u":593,"v":572,"h":42},{"u":594,"v":584,"h":22},{"u":609,"v":567,"h":42},{"u":588,"v":577,"h":22},{"u":583,"v":583,"h":42},{"u":591,"v":585,"h":22},{"u":551,"v":577,"h":42},{"u":691,"v":465,"h":6},{"u":736,"v":464,"h":6},{"u":756,"v":463,"h":6},{"u":690,"v":471,"h":42},{"u":718,"v":476,"h":6},{"u":749,"v":475,"h":12},{"u":756,"v":469,"h":16},{"u":769,"v":470,"h":42},{"u":777,"v":467,"h":12},{"u":782,"v":466,"h":16},{"u":796,"v":471,"h":16},{"u":745,"v":485,"h":6},{"u":767,"v":484,"h":6},{"u":790,"v":488,"h":12},{"u":803,"v":489,"h":16},{"u":809,"v":484,"h":16},{"u":815,"v":481,"h":12},{"u":830,"v":463,"h":42},{"u":835,"v":465,"h":16},{"u":858,"v":461,"h":42},{"u":842,"v":477,"h":22},{"u":845,"v":478,"h":22},{"u":867,"v":482,"h":22},{"u":871,"v":482,"h":22},{"u":876,"v":477,"h":32},{"u":840,"v":489,"h":22},{"u":849,"v":487,"h":22},{"u":847,"v":496,"h":22},{"u":712,"v":498,"h":16},{"u":727,"v":499,"h":12},{"u":732,"v":495,"h":12},{"u":733,"v":499,"h":16},{"u":770,"v":498,"h":16},{"u":778,"v":500,"h":12},{"u":788,"v":503,"h":16},{"u":773,"v":508,"h":12},{"u":782,"v":510,"h":12},{"u":790,"v":512,"h":22},{"u":758,"v":511,"h":12},{"u":704,"v":510,"h":6},{"u":726,"v":515,"h":16},{"u":807,"v":516,"h":12},{"u":834,"v":508,"h":12},{"u":870,"v":507,"h":16},{"u":876,"v":511,"h":22},{"u":840,"v":523,"h":22},{"u":853,"v":520,"h":22},{"u":737,"v":528,"h":12},{"u":744,"v":528,"h":16},{"u":707,"v":533,"h":16},{"u":712,"v":540,"h":12},{"u":733,"v":547,"h":22},{"u":773,"v":543,"h":22},{"u":800,"v":540,"h":12},{"u":826,"v":547,"h":22},{"u":834,"v":532,"h":22},{"u":847,"v":534,"h":22},{"u":859,"v":542,"h":12},{"u":875,"v":539,"h":22},{"u":736,"v":556,"h":42},{"u":767,"v":558,"h":42},{"u":751,"v":563,"h":12},{"u":817,"v":558,"h":22},{"u":830,"v":561,"h":22},{"u":688,"v":563,"h":12},{"u":688,"v":553,"h":12},{"u":679,"v":557,"h":22},{"u":698,"v":557,"h":12},{"u":673,"v":538,"h":22},{"u":773,"v":576,"h":52},{"u":779,"v":573,"h":52},{"u":786,"v":568,"h":52},{"u":791,"v":563,"h":52},{"u":809,"v":573,"h":52},{"u":813,"v":567,"h":52},{"u":818,"v":563,"h":52},{"u":821,"v":562,"h":52},{"u":834,"v":575,"h":22},{"u":838,"v":575,"h":32},{"u":823,"v":582,"h":12},{"u":792,"v":583,"h":12},{"u":851,"v":587,"h":12},{"u":771,"v":589,"h":22},{"u":878,"v":594,"h":22},{"u":733,"v":586,"h":52},{"u":741,"v":587,"h":52},{"u":747,"v":587,"h":52},{"u":754,"v":584,"h":52},{"u":761,"v":582,"h":52},{"u":775,"v":591,"h":52},{"u":782,"v":588,"h":52},{"u":745,"v":596,"h":52},{"u":753,"v":596,"h":52},{"u":760,"v":598,"h":22},{"u":767,"v":598,"h":52},{"u":774,"v":602,"h":52},{"u":781,"v":603,"h":52},{"u":788,"v":602,"h":52},{"u":795,"v":598,"h":52},{"u":803,"v":595,"h":52},{"u":810,"v":592,"h":52},{"u":818,"v":588,"h":52},{"u":823,"v":585,"h":52},{"u":831,"v":580,"h":52},{"u":733,"v":605,"h":52},{"u":738,"v":604,"h":52},{"u":745,"v":606,"h":52},{"u":752,"v":607,"h":52},{"u":758,"v":613,"h":52},{"u":764,"v":614,"h":52},{"u":774,"v":615,"h":52},{"u":783,"v":614,"h":52},{"u":792,"v":614,"h":52},{"u":800,"v":612,"h":52},{"u":808,"v":610,"h":52},{"u":816,"v":607,"h":52},{"u":823,"v":603,"h":52},{"u":831,"v":600,"h":52},{"u":730,"v":610,"h":50},{"u":738,"v":617,"h":50},{"u":750,"v":622,"h":50},{"u":763,"v":617,"h":50},{"u":773,"v":622,"h":52},{"u":783,"v":624,"h":52},{"u":792,"v":623,"h":52},{"u":801,"v":624,"h":52},{"u":809,"v":623,"h":52},{"u":818,"v":621,"h":52},{"u":826,"v":618,"h":52},{"u":834,"v":616,"h":52},{"u":843,"v":613,"h":52},{"u":705,"v":634,"h":54},{"u":711,"v":633,"h":54},{"u":716,"v":632,"h":54},{"u":723,"v":635,"h":54},{"u":730,"v":634,"h":54},{"u":742,"v":634,"h":54},{"u":757,"v":632,"h":54},{"u":767,"v":633,"h":54},{"u":778,"v":632,"h":54},{"u":790,"v":629,"h":54},{"u":802,"v":628,"h":54},{"u":813,"v":627,"h":54},{"u":823,"v":626,"h":54},{"u":833,"v":626,"h":54},{"u":842,"v":624,"h":54},{"u":850,"v":624,"h":54},{"u":858,"v":622,"h":54},{"u":815,"v":632,"h":16},{"u":849,"v":631,"h":16},{"u":877,"v":615,"h":22},{"u":692,"v":594,"h":22},{"u":693,"v":598,"h":12},{"u":701,"v":602,"h":22},{"u":710,"v":603,"h":22},{"u":715,"v":612,"h":22},{"u":735,"v":601,"h":12},{"u":759,"v":599,"h":12},{"u":767,"v":607,"h":12},{"u":736,"v":622,"h":12},{"u":710,"v":575,"h":42},{"u":715,"v":580,"h":42},{"u":720,"v":585,"h":42},{"u":725,"v":593,"h":42},{"u":730,"v":600,"h":42},{"u":723,"v":577,"h":12},{"u":717,"v":573,"h":22},{"u":723,"v":573,"h":42},{"u":710,"v":567,"h":42},{"u":705,"v":562,"h":42},{"u":698,"v":552,"h":42},{"u":699,"v":557,"h":32},{"u":693,"v":570,"h":42},{"u":698,"v":572,"h":42},{"u":702,"v":577,"h":42},{"u":680,"v":608,"h":46},{"u":681,"v":613,"h":46},{"u":677,"v":617,"h":46},{"u":668,"v":623,"h":46},{"u":658,"v":630,"h":50},{"u":650,"v":633,"h":22},{"u":693,"v":614,"h":22},{"u":703,"v":624,"h":22},{"u":682,"v":630,"h":46},{"u":688,"v":632,"h":46},{"u":693,"v":623,"h":46},{"u":631,"v":613,"h":32},{"u":623,"v":617,"h":22},{"u":640,"v":622,"h":42},{"u":632,"v":625,"h":32},{"u":623,"v":633,"h":12},{"u":622,"v":618,"h":12},{"u":660,"v":593,"h":12},{"u":662,"v":612,"h":12},{"u":638,"v":606,"h":12},{"u":628,"v":592,"h":32},{"u":625,"v":603,"h":42},{"u":613,"v":598,"h":42},{"u":648,"v":593,"h":42},{"u":668,"v":590,"h":42},{"u":673,"v":587,"h":42},{"u":663,"v":588,"h":42},{"u":677,"v":577,"h":22},{"u":683,"v":581,"h":12},{"u":692,"v":582,"h":12}],
"cells":[{"x":-680,"x2":-340,"y":-680,"y2":-340,"s":"point"},{"x":-340,"x2":0,"y":-680,"y2":-340,"s":"point"},{"x":0,"x2":340,"y":-680,"y2":-340,"s":"point"},{"x":340,"x2":680,"y":-680,"y2":-340,"s":"point"},{"x":-680,"x2":-340,"y":-340,"y2":0,"s":"point"},{"x":-340,"x2":0,"y":-340,"y2":0,"s":"point"},{"x":0,"x2":340,"y":-340,"y2":0,"s":"point"},{"x":340,"x2":680,"y":-340,"y2":0,"s":"point"},{"x":-680,"x2":-340,"y":0,"y2":340,"s":"point"},{"x":-340,"x2":0,"y":0,"y2":340,"s":"point"},{"x":0,"x2":340,"y":0,"y2":340,"s":"point"},{"x":340,"x2":680,"y":0,"y2":340,"s":"point"},{"x":-680,"x2":-340,"y":340,"y2":680,"s":"point"},{"x":-340,"x2":0,"y":340,"y2":680,"s":"point"},{"x":0,"x2":340,"y":340,"y2":680,"s":"point"},{"x":340,"x2":680,"y":340,"y2":680,"s":"point"}],
"gaps":[{"x":-530,"y":645},{"x":-510,"y":645},{"x":-650,"y":655},{"x":-622,"y":565},{"x":-460,"y":585},{"x":-632,"y":-338},{"x":-610,"y":-345},{"x":-653,"y":-410},{"x":-570,"y":-555},{"x":-590,"y":-565},{"x":-480,"y":-460},{"x":-410,"y":-545},{"x":-335,"y":-645}],
"hist":[{"a":16,"b":387.5,"n":1700,"s":"Height"},{"a":387.5,"b":760,"n":1800,"s":"Height"},{"a":760,"b":1133,"n":943,"s":"Height"}]},
"bounds":"flush","spacing":33,
"resolve":{"scale":{"color":"independent","shape":"independent"},"legend":{"color":"independent","shape":"independent"}},
"vconcat":[
{"width":593,"height":527,"title":{"text":"LiDAR Point 3D Coordinate Graph","dx":32.5,"offset":0},
"encoding":{"x":{"field":"u","type":"quantitative","axis":null,"scale":{"domain":[286,879],"nice":false,"zero":false}},"y":{"field":"v","type":"quantitative","axis":null,"scale":{"domain":[635,108],"nice":false,"zero":false}}},
"layer":[
{"data":{"name":"panes"},"transform":[{"filter":"datum.p=='left'"}],"mark":{"type":"area","color":"#f8f8f8"},"encoding":{"y2":{"field":"w"}}},
{"data":{"name":"panes"},"transform":[{"filter":"datum.p=='right'"}],"mark":{"type":"area","color":"#f2f2f2"},"encoding":{"y2":{"field":"w"}}},
{"data":{"name":"panes"},"transform":[{"filter":"datum.p=='floor'"}],"mark":{"type":"area","color":"#f5f5f5"},"encoding":{"y2":{"field":"w"}}},
{"data":{"name":"grid"},"mark":{"type":"rule","color":"#b8b8b8","strokeWidth":1.1},"encoding":{"x":{"field":"a","type":"quantitative"},"y":{"field":"b","type":"quantitative"},"x2":{"field":"c"},"y2":{"field":"d"}}},
{"data":{"name":"axes3d"},"mark":{"type":"rule","color":"black","strokeWidth":1.1},"encoding":{"x":{"field":"a","type":"quantitative"},"y":{"field":"b","type":"quantitative"},"x2":{"field":"c"},"y2":{"field":"d"}}},
{"data":{"name":"ticks3d"},"mark":{"type":"text","fontSize":13.89,"color":"black","align":"center","baseline":"middle"},"encoding":{"text":{"field":"t"}}},
{"data":{"values":[{"u":503,"v":578,"t":"X (cm)"}]},"mark":{"type":"text","fontSize":13.89,"color":"black","angle":18,"align":"center","baseline":"middle"},"encoding":{"text":{"field":"t"}}},
{"data":{"values":[{"u":818,"v":533,"t":"Y (cm)"}]},"mark":{"type":"text","fontSize":13.89,"color":"black","angle":315,"align":"center","baseline":"middle"},"encoding":{"text":{"field":"t"}}},
{"data":{"values":[{"u":918,"v":325,"t":"H (cm)"}]},"mark":{"type":"text","fontSize":13.89,"color":"black","angle":270,"align":"center","baseline":"middle"},"encoding":{"text":{"field":"t"}}},
{"data":{"name":"far"},"mark":{"type":"point","filled":true,"size":46,"opacity":0.55},"encoding":{"color":{"field":"h","type":"quantitative","scale":{"type":"pow","exponent":1.15,"scheme":"viridis","domain":[0,100]},"legend":null},"shape":{"datum":"point","scale":{"domain":["point"],"range":["circle"]},"legend":{"title":null,"orient":"none","legendX":501,"legendY":7,"padding":5,"fillColor":"white","symbolFillColor":"#440154","symbolOpacity":1,"symbolSize":46,"symbolOffset":7,"labelOffset":18,"symbolStrokeWidth":0}}}},
{"data":{"name":"dense"},"mark":{"type":"circle","size":46,"opacity":0.8},"encoding":{"color":{"field":"h","type":"quantitative"}}},
{"data":{"name":"pts"},"mark":{"type":"circle","size":46,"opacity":0.78},"encoding":{"color":{"field":"h","type":"quantitative"}}}
]},
{"bounds":"flush","spacing":258,"resolve":{"scale":{"color":"independent"},"legend":{"color":"independent"}},"hconcat":[
{"width":132,"height":132,"view":{"stroke":"black","strokeWidth":1.1},"title":"LiDAR Point 2D Coordinate Graph",
"layer":[
{"data":{"name":"cells"},"mark":{"type":"rect","stroke":"lightgreen","strokeWidth":1,"clip":true},"encoding":{"x":{"field":"x","type":"quantitative","title":"X (cm)","scale":{"domain":[-673,673],"nice":false},"axis":{"values":[-500,0,500]}},"x2":{"field":"x2"},"y":{"field":"y","type":"quantitative","title":"Y (cm)","scale":{"domain":[-680,680],"nice":false},"axis":{"values":[-500,0,500],"titlePadding":8}},"y2":{"field":"y2"},"color":{"field":"s","type":"nominal","scale":{"domain":["point","wall"],"range":["lightgreen","blue"]},"legend":{"title":null,"orient":"none","legendX":145,"legendY":7,"padding":6,"fillColor":"white","symbolType":"circle","symbolSize":60,"symbolOffset":10,"labelOffset":15,"rowPadding":4,"symbolOpacity":1,"symbolStrokeWidth":0}}}},
{"data":{"name":"gaps"},"mark":{"type":"circle","size":8,"color":"white","opacity":1},"encoding":{"x":{"field":"x","type":"quantitative"},"y":{"field":"y","type":"quantitative"}}}
]},
{"width":404,"height":132,"view":{"stroke":"black","strokeWidth":1.1},"title":"Height Histogram","data":{"name":"hist"},
"mark":{"type":"rect","clip":true,"stroke":"#0000ff","strokeWidth":0.6},
"encoding":{"x":{"field":"a","type":"quantitative","title":null,"scale":{"domain":[0,777],"nice":false},"axis":{"values":[0,100,200,300,400,500,600,700]}},"x2":{"field":"b"},"y":{"field":"n","type":"quantitative","title":null,"scale":{"domain":[0,1886],"nice":false},"axis":{"values":[0,500,1000,1500],"format":"d"}},"y2":{"datum":0},"color":{"field":"s","type":"nominal","scale":{"domain":["Height"],"range":["#0000ff"]},"legend":{"title":null,"orient":"none","legendX":301,"legendY":7,"padding":5,"fillColor":"rgba(255,255,255,0.8)","symbolType":"M-1.4,-0.5H1.4V0.5H-1.4Z","symbolSize":400,"symbolOffset":5,"labelOffset":11,"symbolOpacity":1}}}}
]}
]}
